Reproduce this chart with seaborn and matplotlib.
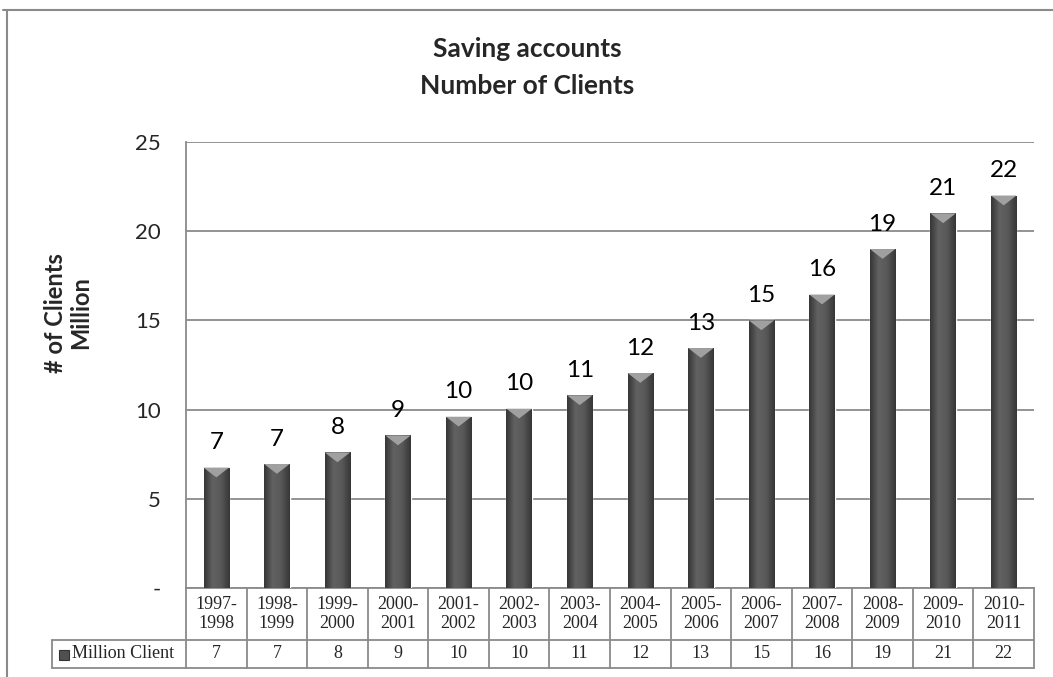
import numpy as np
import pandas as pd
import seaborn as sns
import matplotlib.pyplot as plt
from matplotlib.lines import Line2D
from matplotlib.patches import Polygon, Rectangle
from matplotlib.colors import LinearSegmentedColormap
from matplotlib.ticker import FuncFormatter, MultipleLocator
from matplotlib.transforms import blended_transform_factory

# data
periods = ["1997-\n1998", "1998-\n1999", "1999-\n2000", "2000-\n2001", "2001-\n2002",
           "2002-\n2003", "2003-\n2004", "2004-\n2005", "2005-\n2006", "2006-\n2007",
           "2007-\n2008", "2008-\n2009", "2009-\n2010", "2010-\n2011"]
clients = [6.75, 6.95, 7.6, 8.55, 9.6, 10.05, 10.8, 12.05, 13.45, 15.0, 16.45, 19.0, 21.0, 22.0]
series_name = "Million Client"

sns.set_theme(style="white")
plt.rcParams['font.family'] = ['Lato', 'DejaVu Sans']

df = pd.DataFrame({"period": periods, "clients": clients})

GRAY = "#8a8a8a"
fig = plt.figure(figsize=(10.53, 6.77), dpi=100)
ax = fig.add_axes([186 / 1053, 1 - 588 / 677, 848 / 1053, 446 / 677])

sns.barplot(data=df, x="period", y="clients", color="#505050", width=0.42,
            saturation=1, ax=ax, zorder=3)

# cylinder-ish shading for each bar + light bevel at the top
shade = LinearSegmentedColormap.from_list("shade", ["#363636", "#626262", "#585858", "#363636"])
grad = np.linspace(0, 1, 64).reshape(1, -1)
for p in ax.patches:
    x0, y0, w, h = p.get_x(), p.get_y(), p.get_width(), p.get_height()
    im = ax.imshow(grad, extent=[x0, x0 + w, y0, y0 + h], aspect="auto", cmap=shade,
                   zorder=3.1, interpolation="bicubic")
    im.set_clip_path(p)
    top = y0 + h
    ax.add_patch(Polygon([(x0, top), (x0 + w, top), (x0 + w / 2, top - 0.55)],
                         closed=True, facecolor="#a0a0a0", edgecolor="none", zorder=3.2))
    ax.text(x0 + w / 2, top + 0.8, f"{top:.0f}", ha="center", va="bottom",
            fontsize=17.5, color="black", zorder=4)

ax.set_xlim(-0.5, len(periods) - 0.5)
ax.set_ylim(0, 25)
ax.yaxis.set_major_locator(MultipleLocator(5))
ax.yaxis.set_major_formatter(FuncFormatter(lambda v, _: "-" if v == 0 else f"{v:.0f}"))
ax.tick_params(axis="y", labelsize=16, pad=18, length=0)
ax.set_xticks([])
ax.set_xlabel("")
ax.set_ylabel("# of Clients\nMillion", fontsize=17, fontweight="bold", linespacing=1.1)
ax.yaxis.set_label_coords(-94 / 848, 275 / 446)
ax.yaxis.grid(True, color=GRAY, linewidth=1.3, zorder=0)
for s in ["top", "right"]:
    ax.spines[s].set_visible(False)
for s in ["left", "bottom"]:
    ax.spines[s].set_color(GRAY)
    ax.spines[s].set_linewidth(1.3)

fig.suptitle("Saving accounts\nNumber of Clients", x=527 / 1053, y=1 - 37 / 677,
             fontsize=19, fontweight="bold", linespacing=1.65)

# data table under the axis
tr = blended_transform_factory(ax.transData, ax.transAxes)
row1, row2 = -52 / 446, -80 / 446
leg_x = -134 / 848
line_kw = dict(color=GRAY, linewidth=1.3, clip_on=False)
n = len(periods)
for i in range(n + 1):
    ax.add_line(Line2D([i - 0.5, i - 0.5], [0, row2], transform=tr, **line_kw))
ax.add_line(Line2D([leg_x, 1], [row1, row1], transform=ax.transAxes, **line_kw))
ax.add_line(Line2D([leg_x, 1], [row2, row2], transform=ax.transAxes, **line_kw))
ax.add_line(Line2D([leg_x, leg_x], [row1, row2], transform=ax.transAxes, **line_kw))
for i, (lab, v) in enumerate(zip(periods, clients)):
    ax.text(i, row1 / 2, lab, transform=tr, ha="center", va="center", fontsize=13,
            family="Liberation Serif", linespacing=1.15)
    ax.text(i, (row1 + row2) / 2, f"{v:.0f}", transform=tr, ha="center", va="center",
            fontsize=13, family="Liberation Serif")
mk = Rectangle((59 / 1053, 1 - 660 / 677), 10 / 1053, 10 / 677, transform=fig.transFigure,
               facecolor="#505050", edgecolor="#333333", linewidth=0.8)
fig.add_artist(mk)
fig.text(72 / 1053, 1 - 654 / 677, series_name, ha="left", va="center", fontsize=13,
         family="Liberation Serif")

# outer chart frame (partially visible in the original)
fig.add_artist(Line2D([3 / 1053, 1], [1 - 10 / 677, 1 - 10 / 677], color=GRAY, linewidth=1.5,
                      transform=fig.transFigure))
fig.add_artist(Line2D([7 / 1053, 7 / 1053], [0, 1 - 10 / 677], color=GRAY, linewidth=1.5,
                      transform=fig.transFigure))

fig.savefig("out.png", dpi=100, facecolor="white")
